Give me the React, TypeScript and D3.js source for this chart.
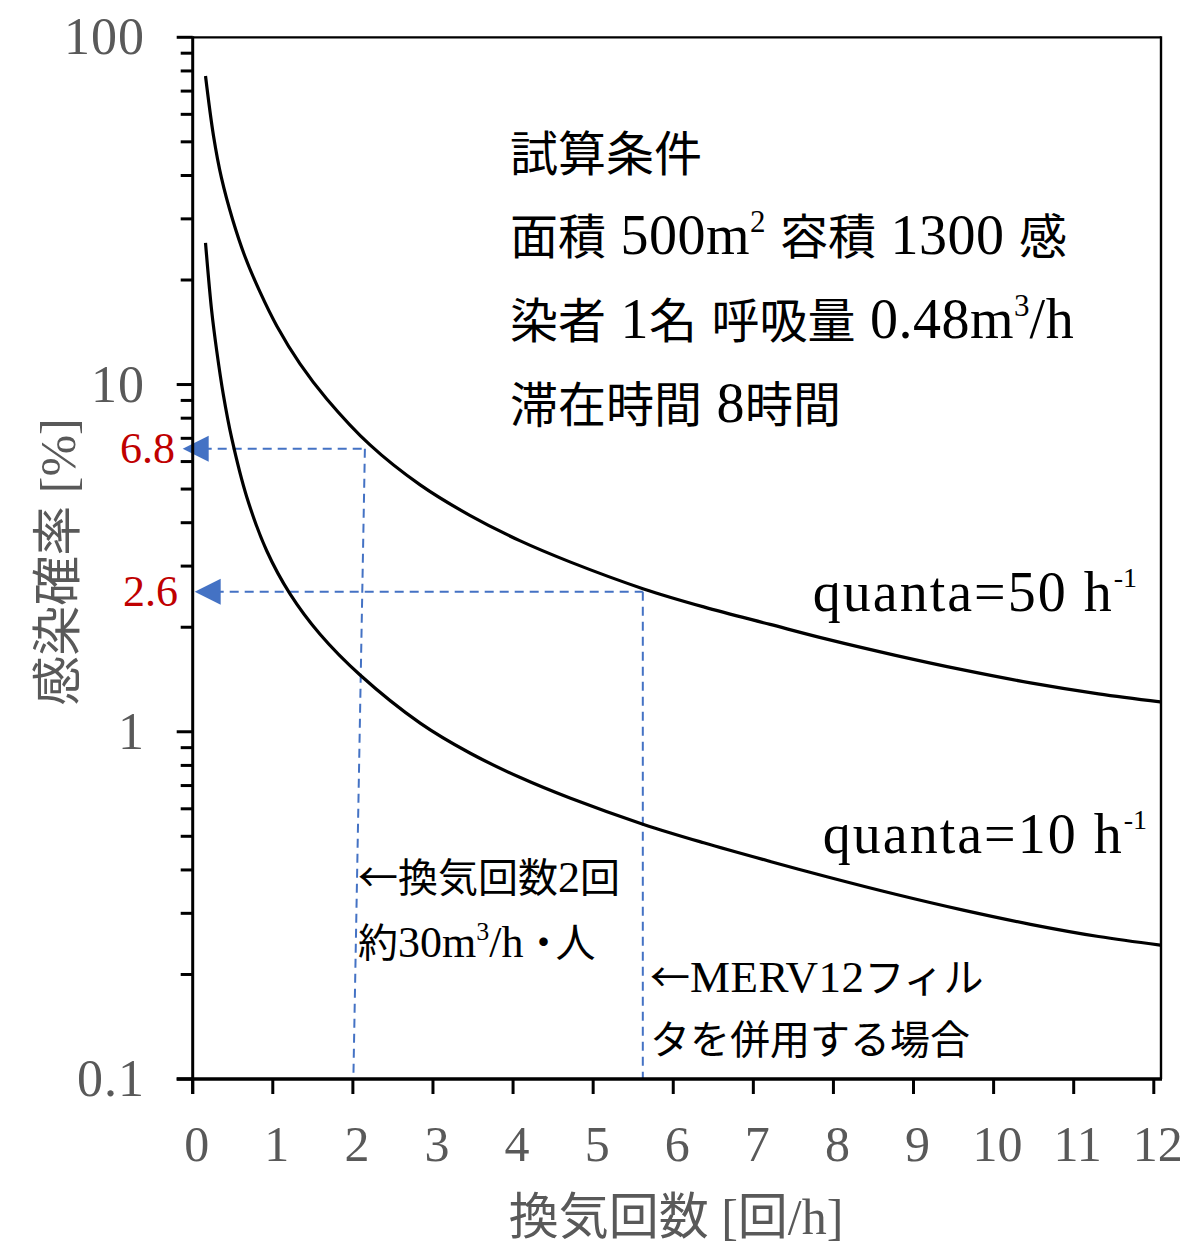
import React from 'react';
import * as d3 from 'd3';

// ---- data ----
const q50X = [0.16, 0.26, 0.36, 0.5, 0.65, 0.84, 1.05, 1.34, 1.674, 2.214, 2.84, 3.46, 4.09, 4.71, 5.63, 6.38, 7.21, 7.93, 8.775, 9.62, 10.46, 11.31, 12.08];
const q50Y = [77.4, 52.0, 39.3, 29.78, 23.46, 18.48, 14.75, 11.47, 9.09, 6.7, 5.14, 4.2, 3.545, 3.085, 2.579, 2.289, 2.038, 1.845, 1.66, 1.507, 1.383, 1.286, 1.219];
const q10X = [0.16, 0.237, 0.3, 0.382, 0.487, 0.674, 0.924, 1.215, 1.59, 2.09, 2.84, 3.46, 4.09, 4.71, 5.63, 6.38, 7.21, 7.93, 8.775, 9.62, 10.46, 11.31, 12.08];
const q10Y = [25.6, 16.29, 12.5, 9.36, 7.005, 4.752, 3.322, 2.496, 1.909, 1.457, 1.059, 0.8685, 0.738, 0.6443, 0.541, 0.479, 0.4232, 0.3817, 0.3404, 0.3064, 0.2789, 0.2572, 0.2429];

const xTicks = [0, 1, 2, 3, 4, 5, 6, 7, 8, 9, 10, 11, 12];
const yMajor = [0.1, 1, 10, 100];
const yMajorLabels = ['0.1', '1', '10', '100'];
const yDecades = [0.1, 1, 10];
const yMinorMult = [2, 3, 4, 5, 6, 7, 8, 9];

const markValues = [6.53, 2.53];
const markLabels = ['6.8', '2.6'];
const markTopX = [2.15, 5.62];
const markBottomX = [2.006, 5.62];

const xTitle = '換気回数';
const xTitleUnit = ' [回/h]';
const yTitle = '感染確率';
const yTitleUnit = ' [%]';

type Seg = [string, 'c' | 'l' | 's' | 'n'];
const condLines: Seg[][] = [
  [['試算条件', 'c']],
  [['面積', 'c'], [' 500m', 'l'], ['2', 's'], [' ', 'l'], ['容積', 'c'], [' 1300 ', 'l'], ['感', 'c']],
  [['染者', 'c'], [' 1', 'l'], ['名', 'c'], [' ', 'l'], ['呼吸量', 'c'], [' 0.48m', 'l'], ['3', 's'], ['/h', 'l']],
  [['滞在時間', 'c'], [' 8', 'l'], ['時間', 'c']],
];
const noteA: Seg[][] = [
  [['←換気回数', 'c'], ['2', 'l'], ['回', 'c']],
  [['約', 'c'], ['30m', 'l'], ['3', 's'], ['/h', 'l'], ['・', 'n'], ['人', 'c']],
];
const noteB: Seg[][] = [
  [['←', 'c'], ['MERV12', 'l'], ['フィル', 'c']],
  [['タを併用する場合', 'c']],
];
const seriesLabels = [
  { name: 'quanta=50 h', sup: '-1' },
  { name: 'quanta=10 h', sup: '-1' },
];

// ---- layout ----
const W = 1184;
const H = 1248;
const L = 192.7;
const R = 1161;
const T = 37.3;
const B = 1079;
const GRAY = '#595959';
const BLUE = '#4472C4';
const RED = '#C00000';
const SERIF = "'Liberation Serif', 'Noto Sans CJK JP', serif";
const CJK = "'Noto Sans CJK JP', 'Liberation Serif', sans-serif";

const x = d3.scaleLinear().domain([0, 12.09]).range([L, R]);
const y = d3.scaleLog().domain([0.1, 100]).range([B, T]);

const line = d3
  .line<[number, number]>()
  .x((d) => x(d[0]))
  .y((d) => y(d[1]))
  .curve(d3.curveCatmullRom.alpha(0.5));

function segs(parts: Seg[], cjk: number, lat: number, sup: number, supDy: number, ls = 0) {
  const out: React.ReactNode[] = [];
  let raised = false;
  parts.forEach((p, i) => {
    const [t, k] = p;
    if (k === 's') {
      out.push(
        <tspan key={i} fontFamily={SERIF} fontSize={sup} dy={-supDy}>
          {t}
        </tspan>
      );
      raised = true;
    } else {
      const narrow = k === 'n';
      out.push(
        <tspan
          key={i}
          fontFamily={k === 'l' ? SERIF : CJK}
          fontSize={k === 'l' ? lat : cjk}
          letterSpacing={k === 'l' ? ls : narrow ? -8 : 0}
          dy={raised ? supDy : undefined}
          style={{ whiteSpace: 'pre' }}
        >
          {t}
        </tspan>
      );
      raised = false;
    }
  });
  return out;
}

export default function App() {
  const d50 = line(q50X.map((v, i) => [v, q50Y[i]] as [number, number])) || '';
  const d10 = line(q10X.map((v, i) => [v, q10Y[i]] as [number, number])) || '';

  const minor: number[] = [];
  yDecades.forEach((d) => yMinorMult.forEach((m) => minor.push(d * m)));

  const condBase = [171, 254, 338, 422];
  const noteABase = [892, 957];
  const noteBBase = [992, 1054];

  return (
    <svg width={W} height={H} style={{ position: 'absolute', left: 0, top: 0, background: '#fff' }}>
      <rect x={0} y={0} width={W} height={H} fill="#fff" />

      {/* dashed guides */}
      {markValues.map((v, i) => {
        const yy = y(v);
        const tipX = i === 0 ? L - 10 : L + 2;
        return (
          <g key={'m' + i}>
            <line x1={tipX + 20} x2={x(markTopX[i])} y1={yy} y2={yy} stroke={BLUE} strokeWidth={2} strokeDasharray="9 6" />
            <line x1={x(markTopX[i])} x2={x(markBottomX[i])} y1={yy} y2={B} stroke={BLUE} strokeWidth={2} strokeDasharray="9 6" />
            <path d={`M${tipX},${yy} L${tipX + 26},${yy - 13} L${tipX + 26},${yy + 13} Z`} fill={BLUE} />
            <text x={i === 0 ? 175 : 178} y={yy + 14} textAnchor="end" fontFamily={SERIF} fontSize={44} fill={RED}>
              {markLabels[i]}
            </text>
          </g>
        );
      })}

      {/* curves */}
      <path d={d50} fill="none" stroke="#000" strokeWidth={3.2} />
      <path d={d10} fill="none" stroke="#000" strokeWidth={3.2} />

      {/* frame */}
      <line x1={L} x2={R} y1={T} y2={T} stroke="#000" strokeWidth={2.2} />
      <line x1={R} x2={R} y1={T - 1} y2={B} stroke="#000" strokeWidth={2.4} />
      <line x1={L} x2={L} y1={T - 1} y2={B + 15} stroke="#000" strokeWidth={3} />
      <line x1={L - 16} x2={R + 1} y1={B} y2={B} stroke="#000" strokeWidth={3.5} />

      {/* y ticks */}
      {yMajor.map((v, i) => (
        <g key={'ym' + i}>
          <line x1={L - 16} x2={L} y1={y(v)} y2={y(v)} stroke="#000" strokeWidth={3} />
          <text x={145} y={y(v) + 17} textAnchor="end" fontFamily={SERIF} fontSize={52} letterSpacing={1} fill={GRAY}>
            {yMajorLabels[i]}
          </text>
        </g>
      ))}
      {minor.map((v, i) => (
        <line key={'yn' + i} x1={L - 12} x2={L} y1={y(v)} y2={y(v)} stroke="#000" strokeWidth={3} />
      ))}

      {/* x ticks */}
      {xTicks.map((v) => (
        <g key={'xt' + v}>
          <line x1={x(v)} x2={x(v)} y1={B} y2={B + 15} stroke="#000" strokeWidth={3} />
          <text x={x(v) + 4} y={1161} textAnchor="middle" fontFamily={SERIF} fontSize={50} fill={GRAY}>
            {String(v)}
          </text>
        </g>
      ))}

      {/* axis titles */}
      <text x={676} y={1234} textAnchor="middle" fill={GRAY} style={{ whiteSpace: 'pre' }}>
        <tspan fontFamily={CJK} fontSize={50}>{xTitle}</tspan>
        <tspan fontFamily={SERIF} fontSize={50}>{xTitleUnit}</tspan>
      </text>
      <text transform="translate(74.5,562) rotate(-90)" textAnchor="middle" fill={GRAY} style={{ whiteSpace: 'pre' }}>
        <tspan fontFamily={CJK} fontSize={50}>{yTitle}</tspan>
        <tspan fontFamily={SERIF} fontSize={50}>{yTitleUnit}</tspan>
      </text>

      {/* conditions */}
      {condLines.map((ln, i) => (
        <text key={'c' + i} x={510} y={condBase[i]} fill="#000" style={{ whiteSpace: 'pre' }}>
          {segs(ln, 48, 56, 31, 22, 0.5)}
        </text>
      ))}

      {/* notes */}
      {noteA.map((ln, i) => (
        <text key={'na' + i} x={358} y={noteABase[i]} fill="#000" style={{ whiteSpace: 'pre' }}>
          {segs(ln, 40, 44, 26, 17)}
        </text>
      ))}
      {noteB.map((ln, i) => (
        <text key={'nb' + i} x={650} y={noteBBase[i]} fill="#000" style={{ whiteSpace: 'pre' }}>
          {segs(ln, 40, 45, 26, 17, 0.5)}
        </text>
      ))}

      {/* series labels */}
      {seriesLabels.map((s, i) => (
        <text key={'s' + i} x={i === 0 ? 1137 : 1147} y={i === 0 ? 611 : 853} textAnchor="end" fill="#000" fontFamily={SERIF} style={{ whiteSpace: 'pre' }}>
          <tspan fontSize={56} letterSpacing={2}>{s.name}</tspan>
          <tspan fontSize={28} dy={-24}>{s.sup}</tspan>
        </text>
      ))}
    </svg>
  );
}
